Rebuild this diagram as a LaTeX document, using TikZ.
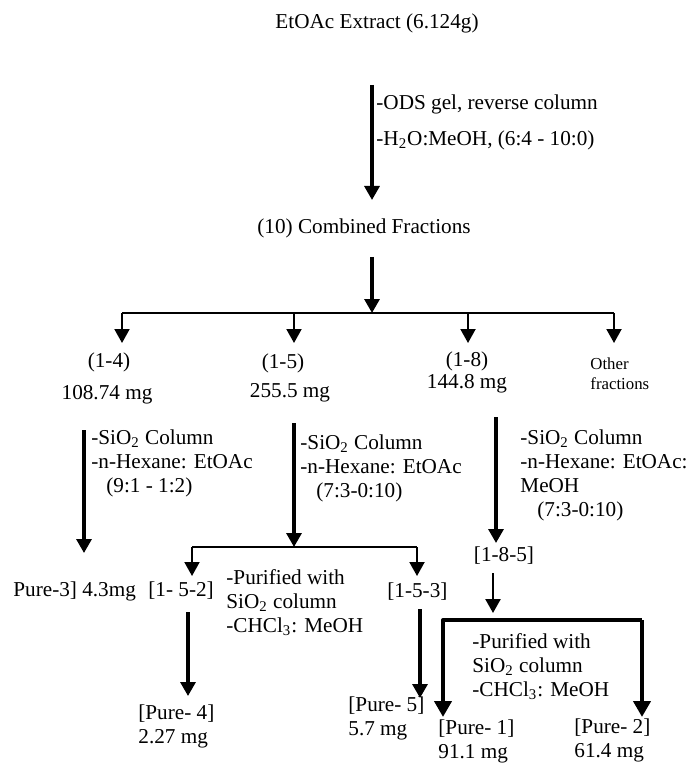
\documentclass[tikz,border=0pt]{standalone}
\usepackage{fontspec}
\setmainfont{Liberation Serif}
\usetikzlibrary{arrows.meta}

\newcommand{\lblfont}{\fontsize{10.6}{12}\selectfont}
\newcommand{\smallfont}{\fontsize{8.4}{10}\selectfont}

\begin{document}
\begin{tikzpicture}[
				x=0.5pt,
				y=-0.5pt,
				line join=round,
				txt/.style={inner sep=0pt, font=\lblfont},
				block/.style={txt, align=left, anchor=north west},
				mainarr/.style={line width=1.6pt, -{Triangle[width=7.5pt,length=7pt]}},
				brancharr/.style={line width=1pt, -{Triangle[width=7.5pt,length=7pt]}},
				thickarr/.style={line width=2pt, -{Triangle[width=8.5pt,length=8pt]}}
			]
			\useasboundingbox (0,0) rectangle (687,764);

			% Extract and first column
			\node[txt] (extract) at (377,23) {EtOAc Extract (6.124g)};
			\coordinate (odsTop) at (372,85);
			\coordinate (odsEnd) at (372,200);
			\draw[mainarr] (odsTop) -- (odsEnd);
			\node[block] (ods) at (376,94) {-ODS gel, reverse column\\[6pt]-H\textsubscript{2}O:MeOH, (6:4 - 10:0)};

			\node[txt] (combined) at (364,228) {(10) Combined Fractions};

			% Splitting into fractions
			\coordinate (splitTop) at (372,257);
			\coordinate (split) at (372,313);
			\coordinate (splitL) at (122,313);
			\coordinate (splitR) at (614,313);
			\draw[mainarr] (splitTop) -- (split);
			\draw[line width=1pt] (splitL) -- (splitR);
			\foreach \name/\xx in {f14/122, f15/294, f18/468, fo/614}
				\draw[brancharr] (\xx,313) -- (\xx,343) coordinate (\name Tip);

			\node[txt] (fr14) at (109,362) {(1-4)};
			\node[txt] (mg14) at (107,395) {108.74 mg};
			\node[txt] (fr15) at (283,363) {(1-5)};
			\node[txt] (mg15) at (290,393) {255.5 mg};
			\node[txt] (fr18) at (467,361) {(1-8)};
			\node[txt] (mg18) at (467,384) {144.8 mg};
			\node[txt, font=\smallfont, align=left, anchor=north west] (other) at (590,357) {Other\\fractions};

			% Column of (1-4)
			\coordinate (c14Top) at (84,430);
			\coordinate (c14End) at (84,553);
			\draw[mainarr] (c14Top) -- (c14End);
			\node[block] (col14) at (91,429) {-SiO\textsubscript{2} Column\\-n-Hexane: EtOAc\\\hspace*{7.5pt}(9:1 - 1:2)};
			\node[txt, anchor=west] (pure3) at (13,591) {Pure-3] 4.3mg};

			% Column of (1-5)
			\coordinate (c15Top) at (294,423);
			\coordinate (c15End) at (294,547);
			\coordinate (c15L) at (192,547);
			\coordinate (c15R) at (417,547);
			\draw[mainarr] (c15Top) -- (c15End);
			\node[block] (col15) at (300,434) {-SiO\textsubscript{2} Column\\-n-Hexane: EtOAc\\\hspace*{8pt}(7:3-0:10)};
			\draw[line width=1pt] (c15L) -- (c15R);
			\draw[brancharr] (c15L) -- (192,576);
			\draw[brancharr] (c15R) -- (417,576);
			\node[txt, anchor=west] (s152) at (148,591) {[1- 5-2]};
			\node[txt, anchor=west] (s153) at (387,592) {[1-5-3]};
			\node[block] (purA) at (226,569) {-Purified with\\SiO\textsubscript{2} column\\-CHCl\textsubscript{3}: MeOH};

			\coordinate (p4Top) at (188,612);
			\coordinate (p4End) at (188,696);
			\draw[mainarr] (p4Top) -- (p4End);
			\node[block] (pure4) at (138,704) {[Pure- 4]\\2.27 mg};
			\coordinate (p5Top) at (420,609);
			\coordinate (p5End) at (420,698);
			\draw[mainarr] (p5Top) -- (p5End);
			\node[block] (pure5) at (348,696) {[Pure- 5]\\5.7 mg};

			% Column of (1-8)
			\coordinate (c18Top) at (496,417);
			\coordinate (c18End) at (496,543);
			\draw[mainarr] (c18Top) -- (c18End);
			\node[block] (col18) at (520,429) {-SiO\textsubscript{2} Column\\-n-Hexane: EtOAc:\\MeOH\\\hspace*{8.5pt}(7:3-0:10)};
			\node[txt] (s185) at (504,556) {[1-8-5]};
			\coordinate (s185Top) at (493,573);
			\coordinate (s185End) at (493,613);
			\draw[brancharr, line width=1.2pt] (s185Top) -- (s185End);

			\coordinate (brL) at (443,620);
			\coordinate (brR) at (642,620);
			\draw[thickarr] (brR) -- (brL) -- (443,717);
			\draw[thickarr] (brR) -- (642,717);
			\node[block] (purB) at (472,633) {-Purified with\\SiO\textsubscript{2} column\\-CHCl\textsubscript{3}: MeOH};
			\node[block] (pure1) at (438,719) {[Pure- 1]\\91.1 mg};
			\node[block] (pure2) at (574,718) {[Pure- 2]\\61.4 mg};

		\end{tikzpicture}
\end{document}
